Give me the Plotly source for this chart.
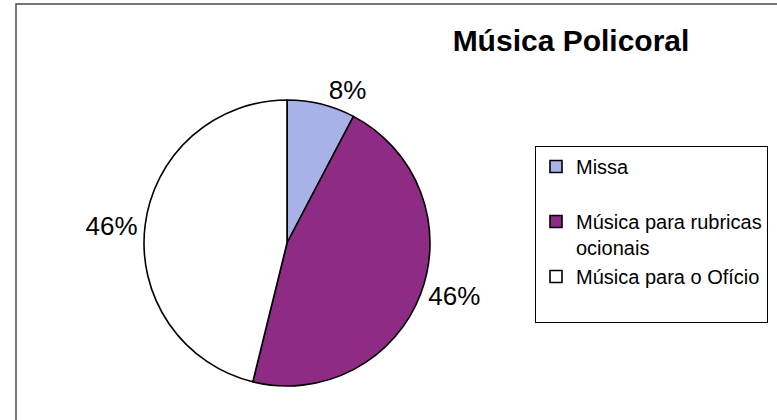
import plotly.graph_objects as go

# dados
categorias = ["Missa<br> ", "Música para rubricas<br>ocionais", "Música para o Ofício<br> "]
valores = [1, 6, 6]
cores = ["#A9B2E8", "#8E2B84", "#FFFFFF"]

W, H = 777, 420


def px(x):
    return x / W


def py(y):
    return 1 - y / H


fig = go.Figure()

fig.add_trace(go.Pie(
    labels=categorias,
    values=valores,
    sort=False,
    direction="clockwise",
    rotation=0,
    marker=dict(colors=cores, line=dict(color="black", width=1.6)),
    texttemplate="%{percent:.0%}",
    textposition="outside",
    textfont=dict(size=26, color="black"),
    domain=dict(x=[px(144), px(430)], y=[py(389), py(97)]),
))

# moldura do gráfico
fig.add_shape(type="rect", xref="paper", yref="paper",
              x0=px(16), x1=1.05, y0=-0.05, y1=py(4),
              line=dict(color="#4A4A5A", width=1.5), fillcolor="rgba(0,0,0,0)")

fig.update_layout(
    width=W, height=H,
    margin=dict(l=0, r=0, t=0, b=0),
    paper_bgcolor="white",
    plot_bgcolor="white",
    font=dict(family="Liberation Sans, Arial, sans-serif", color="black"),
    title=dict(text="<b>Música Policoral</b>", x=px(571), xanchor="center",
               y=py(40), yanchor="middle", font=dict(size=30, color="black")),
    legend=dict(x=px(535), y=py(146), xanchor="left", yanchor="top",
                bordercolor="black", borderwidth=1, bgcolor="white",
                font=dict(size=20), valign="top", itemwidth=30),
)

fig.write_html("out.html", config={"displayModeBar": False},
               post_script="document.body.style.margin='0';")
